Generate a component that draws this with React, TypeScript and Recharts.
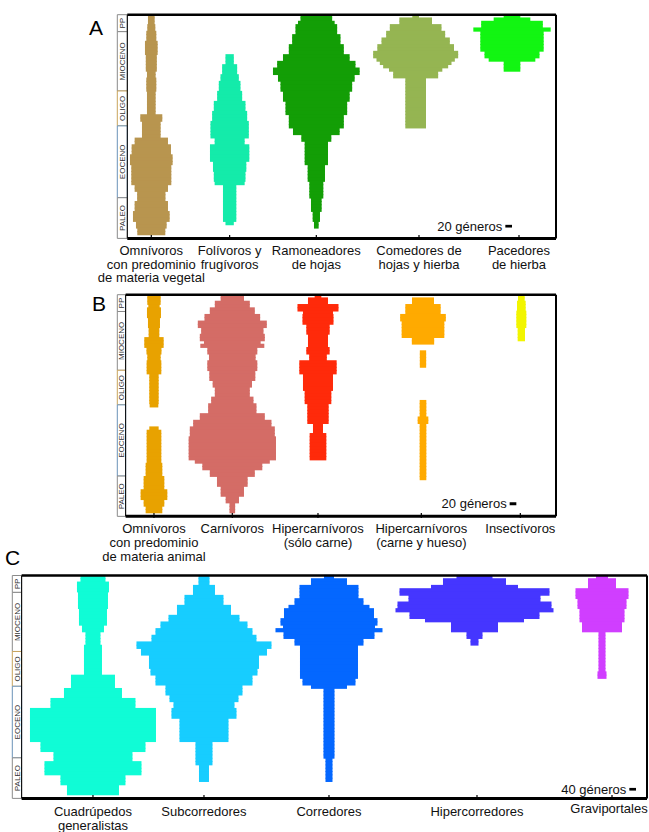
import React from 'react';
import { ComposedChart, Bar, XAxis, YAxis, ReferenceArea, ReferenceLine, Label } from 'recharts';

// ---- time bins (Ma, 1 Myr rows, youngest at top) ----
const ageBins = [0,1,2,3,4,5,6,7,8,9,10,11,12,13,14,15,16,17,18,19,20,21,22,23,24,25,26,27,28,29,30,31,32,33,34,35,36,37,38,39,40,41,42,43,44,45,46,47,48,49,50,51,52,53,54,55,56,57,58,59,60,61,62,63,64,65];
const epochNames = ['PP', 'MIOCENO', 'OLIGO', 'EOCENO', 'PALEO'];
const epochBounds = [0, 5, 22.5, 32.8, 54, 66];
const epochStroke = ['#8a8a8a', '#8a8a8a', '#C9A45C', '#6B93B8', '#8a8a8a'];

// ---- Panel A (genera per time bin) ----
const labelsA = [['Omnívoros', 'con predominio', 'de materia vegetal'], ['Folívoros y', 'frugívoros'], ['Ramoneadores', 'de hojas'], ['Comedores de', 'hojas y hierba'], ['Pacedores', 'de hierba']];
const colorsA = ['#B8954F', '#14EBAA', '#139E06', '#95B552', '#12F512'];
const centersA = [72, 307, 567, 865, 1154];
const ticksA = [72, 307, 567, 875, 1175];
const omnivorosVeg = [20,20,20,24,24,30,30,30,38,38,38,38,33,33,33,33,33,26,26,30,30,30,30,26,26,26,26,26,26,26,66,66,56,56,56,56,56,100,100,118,118,118,128,128,128,120,120,120,120,120,120,100,100,85,85,85,100,100,100,110,110,110,92,92,84,84];
const folivoros = [0,0,0,0,0,0,0,0,0,0,0,0,25,25,25,45,45,45,55,55,65,65,65,75,75,75,95,95,95,105,105,105,115,115,115,115,115,90,90,118,118,118,118,118,100,100,100,95,95,95,90,40,40,40,40,40,40,40,40,40,40,40,25,0,0,0];
const ramoneadores = [95,95,110,125,125,125,145,145,145,165,165,165,200,200,235,235,260,260,230,230,215,215,215,200,200,200,185,185,185,185,165,165,165,165,140,140,90,90,70,70,70,70,70,70,70,52,52,52,52,52,42,42,42,42,42,32,32,32,32,22,22,22,14,14,0,0];
const comedores = [20,98,98,155,155,177,177,205,205,230,230,255,255,235,215,195,160,135,135,62,62,62,62,62,62,62,62,62,62,62,62,62,62,62,0,0,0,0,0,0,0,0,0,0,0,0,0,0,0,0,0,0,0,0,0,0,0,0,0,0,0,0,0,0,0,0];
const pacedores = [50,110,185,185,232,190,190,190,190,190,190,165,165,140,50,50,50,0,0,0,0,0,0,0,0,0,0,0,0,0,0,0,0,0,0,0,0,0,0,0,0,0,0,0,0,0,0,0,0,0,0,0,0,0,0,0,0,0,0,0,0,0,0,0,0,0];

// ---- Panel B ----
const labelsB = [['Omnívoros', 'con predominio', 'de materia animal'], ['Carnívoros'], ['Hipercarnívoros', '(sólo carne)'], ['Hipercarnívoros', '(carne y hueso)'], ['Insectívoros']];
const colorsB = ['#E8A200', '#D46C66', '#FF2A0A', '#FFAA00', '#F2F500'];
const centersB = [85, 320, 577, 892, 1187];
const ticksB = [85, 320, 577, 887, 1184];
const omnivorosAnim = [40,40,40,34,42,42,42,36,36,36,32,32,32,58,58,58,45,45,40,40,44,44,44,44,28,28,28,28,28,28,28,28,28,26,0,0,0,0,0,0,28,44,44,44,44,44,44,44,44,44,44,50,50,50,50,62,62,62,62,80,80,80,62,62,50,50];
const carnivoros = [70,70,105,105,135,135,167,167,207,207,187,187,195,195,170,192,150,150,140,140,150,150,150,138,138,138,118,118,105,105,105,127,127,145,145,145,195,195,235,235,255,255,255,262,262,262,262,262,262,262,225,180,180,135,135,92,92,92,70,70,70,40,40,17,17,17];
const hiperSolo = [20,60,60,123,123,90,93,93,93,70,70,70,60,60,60,60,70,70,53,53,112,112,112,112,90,90,90,90,90,80,80,80,80,64,64,64,64,64,64,30,30,30,50,50,50,50,50,50,50,50,0,0,0,0,0,0,0,0,0,0,0,0,0,0,0,0];
const hiperHueso = [0,66,66,106,106,106,137,137,128,128,128,128,128,67,67,0,0,19,19,19,19,19,0,0,0,0,0,0,0,0,0,0,20,20,20,20,20,32,32,20,20,20,20,20,20,20,20,20,20,20,20,20,20,20,20,20,0,0,0,0,0,0,0,0,0,0];
const insectivoros = [20,20,26,26,26,30,30,30,30,30,22,22,22,22,0,0,0,0,0,0,0,0,0,0,0,0,0,0,0,0,0,0,0,0,0,0,0,0,0,0,0,0,0,0,0,0,0,0,0,0,0,0,0,0,0,0,0,0,0,0,0,0,0,0,0,0];

// ---- Panel C ----
const labelsC = [['Cuadrúpedos', 'generalistas'], ['Subcorredores'], ['Corredores'], ['Hipercorredores'], ['Graviportales']];
const colorsC = ['#10FCD6', '#17CDFF', '#0467FF', '#4536FF', '#D03EFF'];
const centersC = [428, 1094, 1844, 2717, 3482];
const ticksC = [428, 1094, 1844, 2732, 3542];
const cuadrupedos = [150,150,192,192,192,180,180,180,180,180,168,168,168,168,168,132,132,90,90,90,90,108,108,108,108,108,108,108,108,108,264,264,264,264,348,348,348,510,510,510,756,756,756,756,756,756,756,756,756,756,630,630,630,474,474,474,582,582,582,582,390,390,390,312,312,312];
const subcorredores = [66,66,66,132,132,132,234,234,234,324,324,324,426,426,522,522,582,582,630,630,810,810,756,756,660,660,660,660,642,642,582,582,582,462,462,462,414,414,366,366,390,390,390,294,294,294,294,294,294,294,102,102,102,102,102,102,102,60,60,60,60,60,0,0,0,0];
const corredores = [60,216,216,354,354,354,354,414,414,486,540,540,540,582,582,552,642,546,546,414,414,348,348,348,348,348,348,348,348,348,348,318,318,216,66,66,66,66,66,66,66,66,66,66,66,66,66,66,66,66,66,66,66,66,66,42,42,42,42,42,42,42,0,0,0,0];
const hipercorredores = [216,378,378,522,900,900,792,792,924,924,948,780,780,594,282,282,282,96,96,48,48,0,0,0,0,0,0,0,0,0,0,0,0,0,0,0,0,0,0,0,0,0,0,0,0,0,0,0,0,0,0,0,0,0,0,0,0,0,0,0,0,0,0,0,0,0];
const graviportales = [72,168,168,168,318,318,318,294,294,294,270,270,270,270,240,240,240,42,42,42,42,42,42,42,42,42,42,42,42,54,54,0,0,0,0,0,0,0,0,0,0,0,0,0,0,0,0,0,0,0,0,0,0,0,0,0,0,0,0,0,0,0,0,0,0,0];

const FONT = "'Liberation Sans', Arial, Helvetica, sans-serif";

function buildRows(series: number[][], centers: number[]) {
  return ageBins.map((age, i) => {
    const row: any = { age };
    series.forEach((w, k) => {
      const v = w[i];
      row['s' + k] = v > 0 ? [centers[k] - v / 2, centers[k] + v / 2] : null;
    });
    return row;
  });
}

// One spindle row: stretched slightly so consecutive time bins join without seams
const SpindleRow = (props: any) => {
  const { x, y, width, height, fill, background } = props;
  if (!(width > 0) || !(height > 0) || !isFinite(x) || !isFinite(y)) return null;
  const bandY = background && isFinite(background.y) ? background.y : y;
  const bandH = background && background.height > 0 ? background.height : height;
  return <rect x={x} y={bandY - 0.6} width={width} height={bandH + 1.2} fill={fill} />;
};

const makeTick = (ticks: number[], labels: string[][], firstDy: number, lineH: number, offsets: number[][]) => (props: any) => {
  const { x, y, payload } = props;
  const idx = ticks.indexOf(payload.value);
  const lines = labels[idx] || [];
  const off = offsets[idx] || [0, 0];
  const tx = x + off[0];
  return (
    <text x={tx} y={y + off[1]} textAnchor="middle" fontSize={13} fill="#111" fontFamily={FONT}>
      {lines.map((l, i) => (
        <tspan key={i} x={tx} dy={i === 0 ? firstDy : lineH}>{l}</tspan>
      ))}
    </text>
  );
};

type PanelCfg = {
  top: number;
  height: number;
  margin: { top: number; left: number; right: number; bottom: number };
  axisH: number;
  domain: [number, number];
  series: number[][];
  centers: number[];
  ticks: number[];
  labels: string[][];
  labelOffsets: number[][];
  colors: string[];
  firstDy: number;
  lineH: number;
  scaleGenera: number;
  scaleX: number;
  scaleY: [number, number];
};

function Panel({ cfg }: { cfg: PanelCfg }) {
  const rows = buildRows(cfg.series, cfg.centers);
  const [xmin, xmax] = cfg.domain;
  return (
    <div style={{ position: 'absolute', left: 0, top: cfg.top }}>
      <ComposedChart width={649} height={cfg.height} data={rows} layout="vertical" margin={cfg.margin} barCategoryGap="0%" barGap={0}>
        <XAxis xAxisId="main" type="number" domain={cfg.domain} allowDataOverflow ticks={cfg.ticks} interval={0} tickSize={5} tickLine={{ stroke: '#000', strokeWidth: 1.2 }} axisLine={false} height={cfg.axisH} tick={makeTick(cfg.ticks, cfg.labels, cfg.firstDy, cfg.lineH, cfg.labelOffsets)} />
        <YAxis yAxisId="time" type="number" domain={[0, 66]} hide allowDataOverflow />
        {cfg.series.map((_, k) => (
          <YAxis key={'y' + k} yAxisId={'c' + k} type="category" dataKey="age" hide />
        ))}
        {cfg.series.map((_, k) => (
          <Bar key={'b' + k} xAxisId="main" yAxisId={'c' + k} dataKey={'s' + k} fill={cfg.colors[k]} shape={SpindleRow} isAnimationActive={false} />
        ))}
        {epochNames.map((name, e) => (
          <ReferenceArea key={name} xAxisId="main" yAxisId="time" x1={xmin} x2={0} y1={epochBounds[e]} y2={epochBounds[e + 1]} fill="#fff" fillOpacity={1} stroke={epochStroke[e]} strokeWidth={1} ifOverflow="visible"
            label={<Label value={name} angle={-90} position="center" fontSize={8} fill="#333" fontFamily={FONT} />} />
        ))}
        <ReferenceLine xAxisId="main" yAxisId="time" segment={[{ x: 0, y: 0 }, { x: xmax, y: 0 }]} stroke="#000" strokeWidth={2.5} ifOverflow="visible" />
        <ReferenceLine xAxisId="main" yAxisId="time" segment={[{ x: 0, y: 66 }, { x: xmax, y: 66 }]} stroke="#000" strokeWidth={3} ifOverflow="visible" />
        <ReferenceLine xAxisId="main" yAxisId="time" segment={[{ x: xmax, y: 0 }, { x: xmax, y: 66 }]} stroke="#000" strokeWidth={2} ifOverflow="visible" />
        <ReferenceLine xAxisId="main" yAxisId="time" segment={[{ x: 0, y: 0 }, { x: 0, y: 66 }]} stroke="#000" strokeWidth={1} ifOverflow="visible" />
        <ReferenceArea xAxisId="main" yAxisId="time" x1={cfg.scaleX} x2={cfg.scaleX + cfg.scaleGenera} y1={cfg.scaleY[0]} y2={cfg.scaleY[1]} fill="#000" fillOpacity={1} stroke="none" ifOverflow="visible"
          label={<Label value={`${cfg.scaleGenera} géneros`} position="left" offset={3} fontSize={13} fill="#111" fontFamily={FONT} />} />
      </ComposedChart>
    </div>
  );
}

const panelA: PanelCfg = {
  top: 0, height: 290,
  margin: { top: 14.7, left: 117.3, right: 93, bottom: 5 },
  axisH: 50, domain: [-30, 1286],
  series: [omnivorosVeg, folivoros, ramoneadores, comedores, pacedores],
  centers: centersA, ticks: ticksA, labels: labelsA, colors: colorsA,
  labelOffsets: [[0, 0], [0, 0], [0, 0], [0, 0], [0, 0]],
  firstDy: 13, lineH: 13.5,
  scaleGenera: 20, scaleX: 1134, scaleY: [62.0, 62.8],
};

const panelB: PanelCfg = {
  top: 280, height: 290,
  margin: { top: 14.7, left: 117.3, right: 93, bottom: 7 },
  axisH: 50, domain: [-25, 1291],
  series: [omnivorosAnim, carnivoros, hiperSolo, hiperHueso, insectivoros],
  centers: centersB, ticks: ticksB, labels: labelsB, colors: colorsB,
  labelOffsets: [[0, 0], [0, 0], [0, 0], [0, 0], [0, 0]],
  firstDy: 13, lineH: 14,
  scaleGenera: 20, scaleX: 1152, scaleY: [61.8, 62.7],
};

const panelC: PanelCfg = {
  top: 560, height: 272,
  margin: { top: 15.5, left: 12.3, right: 2, bottom: 2 },
  axisH: 35, domain: [-56, 3752],
  series: [cuadrupedos, subcorredores, corredores, hipercorredores, graviportales],
  centers: centersC, ticks: ticksC, labels: labelsC, colors: colorsC,
  labelOffsets: [[0, 0], [0, 0], [0, 0], [0, 0], [-3, -3]],
  firstDy: 14, lineH: 14,
  scaleGenera: 40, scaleX: 3646, scaleY: [62.9, 63.7],
};

const panelLetters = [
  { t: 'A', x: 89, y: 35 },
  { t: 'B', x: 92, y: 311 },
  { t: 'C', x: 5, y: 565 },
];

export default function App() {
  return (
    <div style={{ position: 'absolute', left: 0, top: 0, width: 649, height: 832, background: '#fff', fontFamily: FONT, overflow: 'hidden' }}>
      <Panel cfg={panelA} />
      <Panel cfg={panelB} />
      <Panel cfg={panelC} />
      <svg width={649} height={832} style={{ position: 'absolute', left: 0, top: 0, pointerEvents: 'none' }}>
        {panelLetters.map((p) => (
          <text key={p.t} x={p.x} y={p.y} fontSize={21} fill="#000" fontFamily={FONT}>{p.t}</text>
        ))}
      </svg>
    </div>
  );
}
